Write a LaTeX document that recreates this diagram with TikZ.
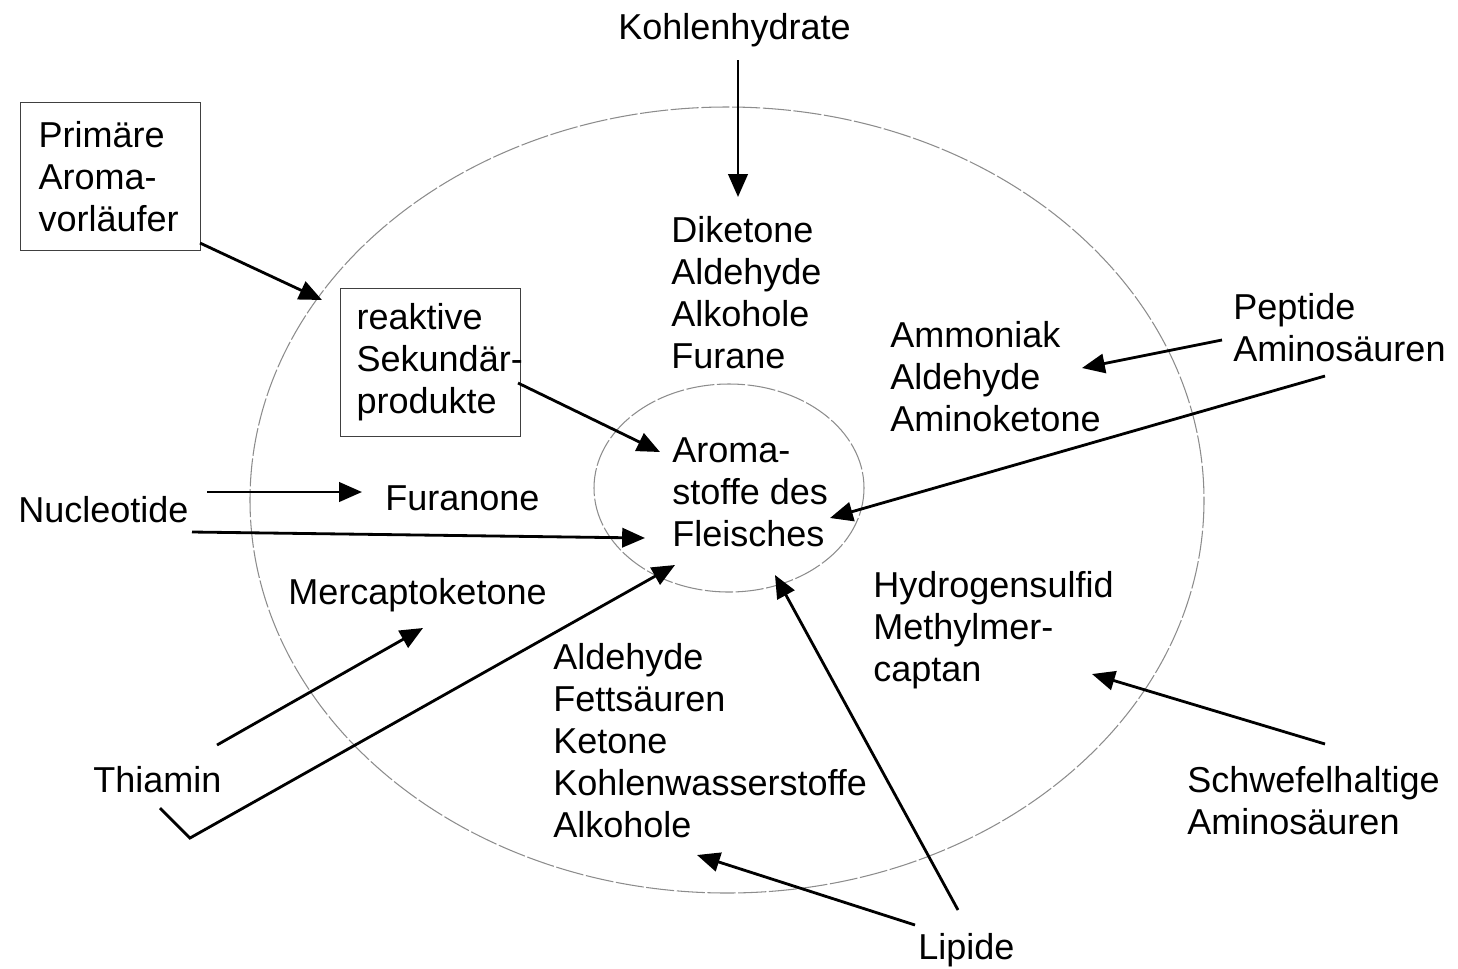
\documentclass[tikz,border=0pt]{standalone}
\usepackage{fontspec}
\setmainfont{Liberation Sans}
\usetikzlibrary{arrows.meta}

\tikzset{
  lbl/.style={anchor=west, inner sep=0pt, align=left, font=\fontsize{20.5}{23.9}\selectfont},
  srcbox/.style={lbl, anchor=north west, draw=black!75, line width=0.7pt, text width=2.88cm, inner xsep=0.36cm, minimum height=2.96cm},
  flow/.style={line width=1.6pt, -{Triangle[length=13pt,width=11pt]}},
  ring/.style={draw=gray!90, line width=0.6pt, dash pattern=on 16pt off 1.5pt}
}

\begin{document}
\begin{tikzpicture}[x=0.02cm, y=-0.02cm]
  \useasboundingbox (0,0) rectangle (1458,968);

  % --- outer and inner ring ---
  \draw[ring] (727,500) ellipse [x radius=477, y radius=393];
  \draw[ring] (729,488) ellipse [x radius=135, y radius=104];

  % --- sources and products ---
  \node[lbl] (kohlen) at (618,30) {Kohlenhydrate};
  \node[srcbox] (primaer) at (20,102) {Primäre\\Aroma-\\vorläufer};
  \node[srcbox, text width=2.96cm, inner xsep=0.32cm] (reaktiv) at (340,288) {reaktive\\\mbox{Sekundär-}\\produkte};
  \node[lbl] (diket) at (671,293) {Diketone\\Aldehyde\\Alkohole\\Furane};
  \node[lbl] (ammon) at (890,377) {Ammoniak\\Aldehyde\\Aminoketone};
  \node[lbl] (peptid) at (1233,328) {Peptide\\Aminosäuren};
  \node[lbl] (aroma) at (672,492) {Aroma-\\stoffe des\\Fleisches};
  \node[lbl] (nucleo) at (18,510) {Nucleotide};
  \node[lbl] (furanon) at (385,498) {Furanone};
  \node[lbl] (mercapto) at (288,595) {Mercaptoketone};
  \node[lbl] (thiamin) at (93,780) {Thiamin};
  \node[lbl] (lipprod) at (553,741) {Aldehyde\\Fettsäuren\\Ketone\\Kohlenwasserstoffe\\Alkohole};
  \node[lbl] (hydro) at (873,630) {Hydrogensulfid\\Methylmer-\\captan};
  \node[lbl] (schwefel) at (1187,801) {Schwefelhaltige\\Aminosäuren};
  \node[lbl] (lipide) at (918,950) {Lipide};

  % --- arrow ends ---
  \coordinate (kohlenE) at (738,60);    \coordinate (diketE) at (738,197);
  \coordinate (primaerE) at (200,243);  \coordinate (ringE) at (322,300);
  \coordinate (reaktivE) at (518,383);  \coordinate (aromaNW) at (660,452);
  \coordinate (peptidE) at (1222,340);  \coordinate (ammonE) at (1082,368);
  \coordinate (aminoE) at (1325,376);   \coordinate (aromaE) at (830,518);
  \coordinate (nucleoA) at (207,492);   \coordinate (furanonE) at (362,492);
  \coordinate (nucleoB) at (192,532);   \coordinate (aromaW) at (645,538);
  \coordinate (thiaminA) at (217,745);  \coordinate (mercaptoE) at (423,628);
  \coordinate (thiaminB) at (160,808);  \coordinate (knick) at (190,838);
  \coordinate (aromaSW) at (675,565);
  \coordinate (schwefelE) at (1325,744); \coordinate (hydroE) at (1092,674);
  \coordinate (lipideA) at (915,925);   \coordinate (lipprodE) at (697,855);
  \coordinate (lipideB) at (958,910);   \coordinate (aromaS) at (775,575);

  % --- arrows ---
  \draw[flow] (kohlenE) -- (diketE);
  \draw[flow] (primaerE) -- (ringE);
  \draw[flow] (reaktivE) -- (aromaNW);
  \draw[flow] (peptidE) -- (ammonE);
  \draw[flow] (aminoE) -- (aromaE);
  \draw[flow] (nucleoA) -- (furanonE);
  \draw[flow] (nucleoB) -- (aromaW);
  \draw[flow] (thiaminA) -- (mercaptoE);
  \draw[flow] (thiaminB) -- (knick) -- (aromaSW);
  \draw[flow] (schwefelE) -- (hydroE);
  \draw[flow] (lipideA) -- (lipprodE);
  \draw[flow] (lipideB) -- (aromaS);
\end{tikzpicture}
\end{document}
